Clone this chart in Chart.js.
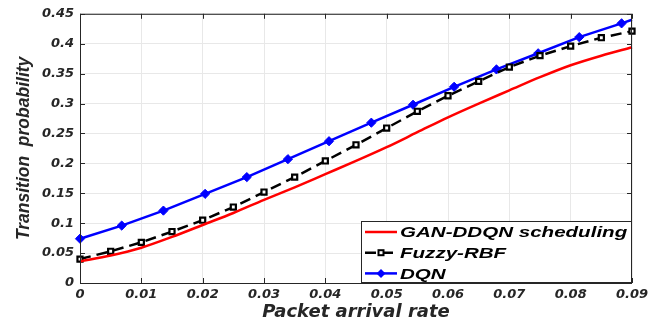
<!DOCTYPE html>
<html lang="en">
<head>
  <meta charset="utf-8" />
  <title>Transition probability vs packet arrival rate</title>
  <script src="https://cdn.jsdelivr.net/npm/chart.js"></script>
  <style>
    body { margin: 0; background: #fff; }
    #wrap { width: 662px; height: 324px; position: relative; }
  </style>
</head>
<body>
  <div id="wrap"><canvas id="chart"></canvas></div>

  <script>
    // axis ticks
    const xTicks = [0, 0.01, 0.02, 0.03, 0.04, 0.05, 0.06, 0.07, 0.08, 0.09];
    const xTickLabels = ['0', '0.01', '0.02', '0.03', '0.04', '0.05', '0.06', '0.07', '0.08', '0.09'];
    const yTicks = [0, 0.05, 0.1, 0.15, 0.2, 0.25, 0.3, 0.35, 0.4, 0.45];
    const yTickLabels = ['0', '0.05', '0.1', '0.15', '0.2', '0.25', '0.3', '0.35', '0.4', '0.45'];

    // series
    const seriesNames = ['GAN-DDQN scheduling', 'Fuzzy-RBF', 'DQN'];

    const ganX = [0, 0.005, 0.01, 0.015, 0.02, 0.025, 0.03, 0.035, 0.04, 0.045,
                  0.05, 0.055, 0.06, 0.065, 0.07, 0.075, 0.08, 0.085, 0.09];
    const ganY = [0.036, 0.046, 0.059, 0.077, 0.097, 0.117, 0.139, 0.160, 0.182, 0.204,
                  0.227, 0.252, 0.277, 0.300, 0.322, 0.344, 0.364, 0.380, 0.394];

    const fuzzyX = [0, 0.005, 0.01, 0.015, 0.02, 0.025, 0.03, 0.035, 0.04, 0.045,
                    0.05, 0.055, 0.06, 0.065, 0.07, 0.075, 0.08, 0.085, 0.09];
    const fuzzyY = [0.040, 0.053, 0.068, 0.086, 0.105, 0.127, 0.152, 0.177, 0.204, 0.231,
                    0.259, 0.287, 0.313, 0.337, 0.361, 0.380, 0.396, 0.410, 0.421];

    const dqnX = [0, 0.0068, 0.0136, 0.0204, 0.0272, 0.0339, 0.0406, 0.0475, 0.0543,
                  0.0610, 0.0679, 0.0747, 0.0814, 0.0883, 0.09];
    const dqnY = [0.074, 0.096, 0.121, 0.149, 0.177, 0.207, 0.237, 0.268, 0.298,
                  0.328, 0.357, 0.384, 0.411, 0.434, 0.440];
    // last DQN point is only the end of the line, no marker
    const dqnMarker = dqnX.map((_, i) => (i === dqnX.length - 1 ? 0 : 4.6));

    const toPoints = (xs, ys) => xs.map((x, i) => ({ x: x, y: ys[i] }));

    const tickFont = { family: 'DejaVu Sans', size: 13, weight: 'bold', style: 'italic' };

    // box + inward tick marks, MATLAB style
    const framePlugin = {
      id: 'frame',
      afterDatasetsDraw(chart) {
        const { ctx, chartArea: a, scales } = chart;
        ctx.save();
        ctx.strokeStyle = '#262626';
        ctx.lineWidth = 1;
        ctx.strokeRect(a.left + 0.5, a.top + 0.5, a.right - a.left - 1, a.bottom - a.top);
        ctx.beginPath();
        xTicks.forEach(v => {
          const px = Math.round(scales.x.getPixelForValue(v)) + 0.5;
          ctx.moveTo(px, a.bottom); ctx.lineTo(px, a.bottom - 5);
          ctx.moveTo(px, a.top); ctx.lineTo(px, a.top + 5);
        });
        yTicks.forEach(v => {
          const py = Math.round(scales.y.getPixelForValue(v)) + 0.5;
          ctx.moveTo(a.left, py); ctx.lineTo(a.left + 5, py);
          ctx.moveTo(a.right, py); ctx.lineTo(a.right - 5, py);
        });
        ctx.stroke();
        ctx.restore();
      }
    };

    // boxed legend in the lower right corner of the plot
    const legendBox = {
      id: 'legendBox',
      afterDraw(chart) {
        const { ctx, chartArea: a } = chart;
        const x0 = 361, y0 = 221, w = a.right - x0, h = a.bottom - y0;
        ctx.save();
        ctx.fillStyle = '#fff';
        ctx.fillRect(x0, y0, w, h);
        ctx.strokeStyle = '#262626';
        ctx.lineWidth = 1;
        ctx.strokeRect(x0 + 0.5, y0 + 0.5, w - 1, h - 1);

        chart.data.datasets.forEach((ds, i) => {
          const cy = y0 + 11 + i * 20.7;
          ctx.strokeStyle = ds.borderColor;
          ctx.lineWidth = ds.borderWidth;
          ctx.setLineDash(ds.borderDash || []);
          ctx.beginPath();
          ctx.moveTo(365, cy); ctx.lineTo(397, cy);
          ctx.stroke();
          ctx.setLineDash([]);
          if (ds.pointStyle === 'rect') {
            ctx.lineWidth = 2;
            ctx.fillStyle = '#fff';
            ctx.fillRect(378.5, cy - 2.5, 5, 5);
            ctx.strokeRect(378.5, cy - 2.5, 5, 5);
          } else if (ds.pointStyle === 'rectRot') {
            ctx.fillStyle = ds.pointBackgroundColor;
            ctx.beginPath();
            ctx.moveTo(381, cy - 4.5); ctx.lineTo(385.5, cy); ctx.lineTo(381, cy + 4.5); ctx.lineTo(376.5, cy);
            ctx.closePath();
            ctx.fill();
          }
          ctx.save();
          ctx.translate(400, cy);
          ctx.scale(1.37, 1);
          ctx.fillStyle = '#000';
          ctx.font = 'italic bold 15px "Liberation Sans"';
          ctx.textBaseline = 'middle';
          ctx.fillText(ds.label, 0, 1);
          ctx.restore();
        });
        ctx.restore();
      }
    };

    const ctx = document.getElementById('chart').getContext('2d');
    const chart = new Chart(ctx, {
      type: 'line',
      data: {
        datasets: [
          {
            label: seriesNames[0],
            data: toPoints(ganX, ganY),
            borderColor: '#ff0000',
            borderWidth: 2.5,
            pointRadius: 0,
            cubicInterpolationMode: 'monotone',
            fill: false,
            clip: false
          },
          {
            label: seriesNames[1],
            data: toPoints(fuzzyX, fuzzyY),
            borderColor: '#000000',
            borderWidth: 2.5,
            borderDash: [11, 6],
            pointStyle: 'rect',
            pointRadius: 3.6,
            pointBackgroundColor: '#ffffff',
            pointBorderColor: '#000000',
            pointBorderWidth: 2.2,
            tension: 0,
            fill: false,
            clip: false
          },
          {
            label: seriesNames[2],
            data: toPoints(dqnX, dqnY),
            borderColor: '#0000ff',
            borderWidth: 2.5,
            pointStyle: 'rectRot',
            pointRadius: dqnMarker,
            pointBackgroundColor: '#0000ff',
            pointBorderColor: '#0000ff',
            pointBorderWidth: 1,
            tension: 0,
            fill: false,
            clip: false
          }
        ]
      },
      options: {
        responsive: true,
        maintainAspectRatio: false,
        animation: false,
        events: [],
        layout: { padding: { top: 10, right: 30, left: 0, bottom: 0 } },
        plugins: {
          legend: { display: false },
          tooltip: { enabled: false }
        },
        scales: {
          x: {
            type: 'linear',
            min: 0,
            max: 0.09,
            afterBuildTicks: s => { s.ticks = xTicks.map(v => ({ value: v })); },
            afterFit: s => { s.height = 41; },
            ticks: {
              autoSkip: false,
              maxRotation: 0,
              padding: 4,
              color: '#262626',
              font: tickFont,
              callback: (v, i) => xTickLabels[i]
            },
            grid: { color: '#e8e8e8', lineWidth: 1, drawTicks: false },
            border: { display: false },
            title: {
              display: true,
              text: 'Packet arrival rate',
              color: '#262626',
              font: { family: 'DejaVu Sans', size: 18, weight: 'bold', style: 'italic' },
              padding: { top: 0, bottom: 1 }
            }
          },
          y: {
            type: 'linear',
            min: 0,
            max: 0.45,
            afterBuildTicks: s => { s.ticks = yTicks.map(v => ({ value: v })); },
            afterFit: s => { s.width = 80; },
            ticks: {
              padding: 6,
              color: '#262626',
              font: tickFont,
              callback: (v, i) => yTickLabels[i]
            },
            grid: { color: '#e8e8e8', lineWidth: 1, drawTicks: false },
            border: { display: false },
            title: {
              display: true,
              text: 'Transition  probability',
              color: '#262626',
              font: { family: 'Liberation Sans', size: 17.5, weight: 'bold', style: 'italic' },
              padding: { top: 14, bottom: 0 }
            }
          }
        }
      },
      plugins: [framePlugin, legendBox]
    });
  </script>
</body>
</html>
